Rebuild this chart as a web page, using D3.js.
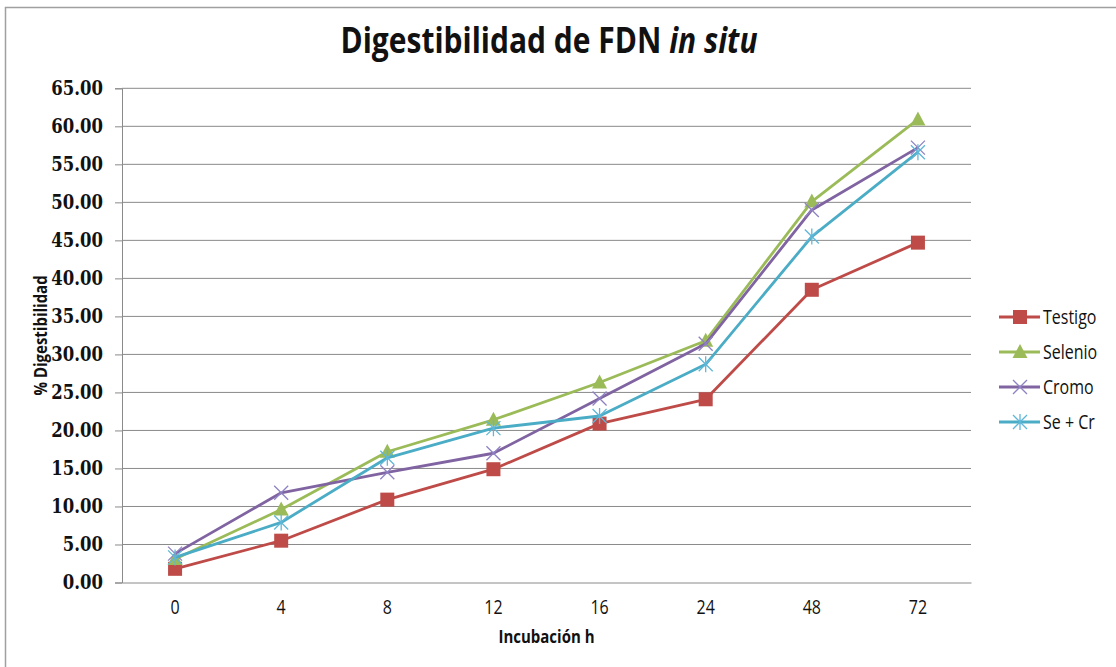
<!DOCTYPE html>
<html>
<head>
<meta charset="utf-8">
<script src="https://cdn.jsdelivr.net/npm/d3@7"></script>
<style>
  body { margin: 0; background: #fff; }
  svg { display: block; }
</style>
</head>
<body>
<script>
/* data */
const hours = ['0', '4', '8', '12', '16', '24', '48', '72'];
const testigo = [1.8, 5.5, 10.9, 14.9, 20.9, 24.1, 38.5, 44.7];
const selenio = [3.1, 9.6, 17.2, 21.4, 26.3, 31.8, 50.1, 60.9];
const cromo = [3.8, 11.8, 14.5, 17.0, 24.2, 31.4, 49.0, 57.2];
const seCr = [3.3, 7.9, 16.4, 20.3, 21.9, 28.7, 45.5, 56.6];
const seriesNames = ['Testigo', 'Selenio', 'Cromo', 'Se + Cr'];
const yTicks = [0, 5, 10, 15, 20, 25, 30, 35, 40, 45, 50, 55, 60, 65];

const colors = ['#be4b48', '#9bbb59', '#8064a2', '#4bacc6'];
const shapes = ['square', 'triangle', 'x', 'star'];
const seriesValues = [testigo, selenio, cromo, seCr];

/* canvas */
const width = 1116;
const height = 667;
const plot = { left: 122, right: 971, top: 88.3, bottom: 582.5 };
// the reference text is a bit stretched vertically
const stretch = 1.2;

const svg = d3.select('body')
  .append('svg')
  .attr('width', width)
  .attr('height', height);

/* chart border */
svg.append('rect')
  .attr('x', 5.5).attr('y', 7.5)
  .attr('width', 1200).attr('height', 800)
  .attr('fill', '#fff')
  .attr('stroke', '#a0a0a0')
  .attr('stroke-width', 1.5);

/* scales */
const xScale = d3.scaleBand()
  .domain(hours)
  .range([plot.left, plot.right]);
const xc = h => xScale(h) + xScale.bandwidth() / 2;

const yScale = d3.scaleLinear()
  .domain([0, 65])
  .range([plot.bottom, plot.top]);

/* gridlines */
svg.append('g').selectAll('line').data(yTicks.filter(d => d > 0)).enter().append('line')
  .attr('x1', plot.left).attr('x2', plot.right)
  .attr('y1', d => yScale(d)).attr('y2', d => yScale(d))
  .attr('stroke', '#8a8a8a').attr('stroke-width', 1);

/* y axis */
const yAxis = svg.append('g')
  .attr('transform', `translate(${plot.left},0)`)
  .call(d3.axisLeft(yScale).tickValues(yTicks).tickSize(7).tickPadding(12)
    .tickFormat(d => d.toFixed(2)));
yAxis.select('.domain').attr('stroke', '#8a8a8a');
yAxis.selectAll('.tick line').attr('stroke', '#8a8a8a');
yAxis.selectAll('text')
  .attr('font-family', '"DejaVu Serif", serif')
  .attr('font-weight', 'bold')
  .attr('font-size', 16.5)
  .attr('fill', '#111')
  .attr('dy', null)
  .attr('transform', `translate(0,6) scale(1,${stretch})`)
  .attr('y', 0);

/* x axis */
const xAxis = svg.append('g')
  .attr('transform', `translate(0,${plot.bottom})`)
  .call(d3.axisBottom(xScale).tickSize(0).tickPadding(16));
xAxis.select('.domain').attr('stroke', '#8a8a8a');
xAxis.selectAll('text')
  .attr('font-family', '"Open Sans", sans-serif')
  .attr('font-size', 16)
  .attr('fill', '#111')
  .attr('dy', null)
  .attr('y', 0)
  .attr('transform', `translate(0,31) scale(1,${stretch})`);

/* marker drawing */
function marker(g, shape, color, x, y) {
  if (shape === 'square') {
    g.append('rect').attr('x', x - 7).attr('y', y - 7).attr('width', 14).attr('height', 14)
      .attr('fill', color);
  } else if (shape === 'triangle') {
    g.append('path').attr('d', `M${x},${y - 8}L${x + 7.5},${y + 6}L${x - 7.5},${y + 6}Z`)
      .attr('fill', color);
  } else if (shape === 'x') {
    g.append('path').attr('d', `M${x - 7},${y - 7}L${x + 7},${y + 7}M${x - 7},${y + 7}L${x + 7},${y - 7}`)
      .attr('stroke', '#8f82c4').attr('stroke-width', 1.3).attr('fill', 'none');
  } else {
    g.append('path').attr('d', `M${x - 7},${y - 7}L${x + 7},${y + 7}M${x - 7},${y + 7}L${x + 7},${y - 7}M${x},${y - 8}L${x},${y + 8}`)
      .attr('stroke', '#5fb7d8').attr('stroke-width', 1.3).attr('fill', 'none');
  }
}

/* lines and points */
const line = d3.line()
  .x((d, i) => xc(hours[i]))
  .y(d => yScale(d));

seriesValues.forEach((vals, s) => {
  const g = svg.append('g');
  g.append('path').datum(vals)
    .attr('fill', 'none')
    .attr('stroke', colors[s])
    .attr('stroke-width', 2.8)
    .attr('stroke-linejoin', 'round')
    .attr('d', line);
  vals.forEach((v, i) => marker(g, shapes[s], colors[s], xc(hours[i]), yScale(v)));
});

/* title */
const title = svg.append('text')
  .attr('transform', `translate(549,53) scale(1,${stretch})`)
  .attr('text-anchor', 'middle')
  .attr('font-family', '"Open Sans", sans-serif')
  .attr('font-weight', 'bold')
  .attr('font-size', 30)
  .attr('fill', '#111');
title.append('tspan').text('Digestibilidad de FDN ');
title.append('tspan').attr('font-style', 'italic').text('in situ');

/* axis titles */
svg.append('text')
  .attr('transform', `translate(${(plot.left + plot.right) / 2},643) scale(1,${stretch})`)
  .attr('text-anchor', 'middle')
  .attr('font-family', '"Open Sans", sans-serif')
  .attr('font-weight', 'bold')
  .attr('font-size', 15)
  .attr('fill', '#111')
  .text('Incubación h');

svg.append('text')
  .attr('transform', `translate(47,${(plot.top + plot.bottom) / 2}) rotate(-90) scale(1,${stretch})`)
  .attr('text-anchor', 'middle')
  .attr('font-family', '"Open Sans", sans-serif')
  .attr('font-weight', 'bold')
  .attr('font-size', 15)
  .attr('fill', '#111')
  .text('% Digestibilidad');

/* legend */
const legend = svg.append('g');
seriesNames.forEach((name, s) => {
  const y = 317 + s * 35;
  legend.append('line')
    .attr('x1', 999).attr('x2', 1040).attr('y1', y).attr('y2', y)
    .attr('stroke', colors[s]).attr('stroke-width', 2.8);
  marker(legend, shapes[s], colors[s], 1020, y);
  legend.append('text')
    .attr('transform', `translate(1043,${y + 6.5}) scale(1,${stretch})`)
    .attr('font-family', '"Open Sans", sans-serif')
    .attr('font-size', 16)
    .attr('fill', '#111')
    .text(name);
});
</script>
</body>
</html>
